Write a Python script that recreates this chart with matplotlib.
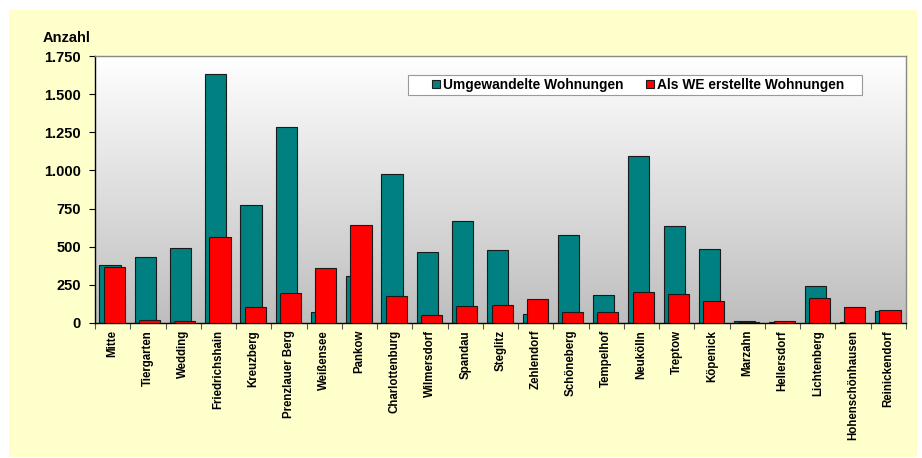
import numpy as np
import matplotlib
matplotlib.use("Agg")
import matplotlib.pyplot as plt
from matplotlib.patches import Rectangle
from matplotlib.colors import LinearSegmentedColormap
from matplotlib.ticker import FuncFormatter, FixedLocator

plt.rcParams['font.family'] = ['Liberation Sans', 'DejaVu Sans']
plt.rcParams['font.weight'] = 'bold'

# Bezirke
bezirke = ["Mitte", "Tiergarten", "Wedding", "Friedrichshain", "Kreuzberg",
           "Prenzlauer Berg", "Weißensee", "Pankow", "Charlottenburg",
           "Wilmersdorf", "Spandau", "Steglitz", "Zehlendorf", "Schöneberg",
           "Tempelhof", "Neukölln", "Treptow", "Köpenick", "Marzahn",
           "Hellersdorf", "Lichtenberg", "Hohenschönhausen", "Reinickendorf"]

umgewandelt = [382, 430, 489, 1634, 772, 1287, 70, 305, 978, 463, 670, 480,
               59, 578, 181, 1093, 637, 484, 13, 8, 244, 4, 76]
als_we = [367, 22, 13, 565, 105, 196, 360, 641, 175, 50, 109, 118, 157, 72,
          72, 203, 190, 146, 4, 10, 164, 107, 85]

yticks = [0, 250, 500, 750, 1000, 1250, 1500, 1750]

fig = plt.figure(figsize=(9.22, 4.58), dpi=100)
fig.patch.set_facecolor('white')
# yellow chart area
bg = Rectangle((9 / 922, 1 / 458), 908 / 922, 447 / 458,
               transform=fig.transFigure, facecolor='#FFFFCC',
               edgecolor='none', zorder=-10)
fig.add_artist(bg)

ax = fig.add_axes([95 / 922, 1 - 323 / 458, 811 / 922, 267 / 458])
x = np.arange(len(bezirke))

# gradient background of plot area
grad = LinearSegmentedColormap.from_list('g', ['#BEBEBE', '#FFFFFF'])
ax.imshow(np.linspace(0, 1, 256).reshape(-1, 1), cmap=grad, origin='lower',
          extent=(-0.5, len(bezirke) - 0.5, 0, 1750), aspect='auto', zorder=0)

w = 0.6
ax.bar(x - 0.075, umgewandelt, width=w, color='#008080', edgecolor='#1a1a1a',
       linewidth=0.8, zorder=2, label='Umgewandelte Wohnungen')
ax.bar(x + 0.045, als_we, width=w, color='#FF0000', edgecolor='#1a1a1a',
       linewidth=0.8, zorder=3, label='Als WE erstellte Wohnungen')

ax.set_xlim(-0.5, len(bezirke) - 0.5)
ax.set_ylim(0, 1750)
ax.set_yticks(yticks)
ax.yaxis.set_major_formatter(FuncFormatter(lambda v, p: f"{int(v):,}".replace(',', '.')))
ax.tick_params(axis='y', length=4, width=0.8, pad=6, labelsize=10.5, colors='black')

ax.set_xticks(x)
ax.set_xticklabels(bezirke, rotation=90, fontsize=8.3)
ax.tick_params(axis='x', length=0, pad=5)
ax.xaxis.set_minor_locator(FixedLocator(np.arange(-0.5, len(bezirke), 1.0)))
ax.tick_params(axis='x', which='minor', length=4, width=0.8, color='#555555')

for s in ['left', 'bottom']:
    ax.spines[s].set_color('black')
    ax.spines[s].set_linewidth(1.0)
for s in ['top', 'right']:
    ax.spines[s].set_color('#888888')
    ax.spines[s].set_linewidth(1.0)

fig.text(43 / 922, 1 - 38 / 458, 'Anzahl', fontsize=10.5, fontweight='bold',
         va='center', ha='left')

# legend frame
ax.add_patch(Rectangle((0.386, 0.854), 0.56, 0.075, transform=ax.transAxes,
                       facecolor='white', edgecolor='#999999', linewidth=0.8,
                       zorder=5))
leg = ax.legend(loc='center left', bbox_to_anchor=(0.415, 0.8915), ncol=2,
                frameon=False, fontsize=9.9, handlelength=0.6,
                handleheight=0.6, handletextpad=0.25, columnspacing=1.6,
                borderpad=0, borderaxespad=0)
leg.set_zorder(6)

fig.savefig('out.png', dpi=100, facecolor=fig.get_facecolor())
